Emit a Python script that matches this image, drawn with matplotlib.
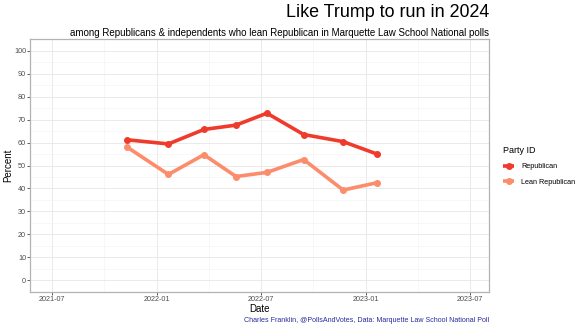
import numpy as np
import pandas as pd
import matplotlib
matplotlib.use('Agg')
import matplotlib.pyplot as plt
import matplotlib.dates as mdates

plt.rcParams['font.family'] = ['Liberation Sans', 'DejaVu Sans']

# poll end dates and shares
poll_dates = pd.to_datetime(['2021-11-10', '2022-01-21', '2022-03-24', '2022-05-19',
                             '2022-07-12', '2022-09-14', '2022-11-22', '2023-01-20'])
republican = [61.2, 59.4, 65.7, 67.6, 72.8, 63.5, 60.4, 55.0]
lean_republican = [58.0, 46.1, 54.7, 45.2, 47.0, 52.6, 39.3, 42.5]

series_names = ['Republican', 'Lean Republican']
series_colors = ['#EF3B2C', '#FC8D6C']

W, H = 584, 329
fig = plt.figure(figsize=(W / 100, H / 100), dpi=100)
ax = fig.add_axes([30.3 / W, 1 - 291.7 / H, (489.3 - 30.3) / W, (291.7 - 39.3) / H])

for vals, name, col in zip([republican, lean_republican], series_names, series_colors):
    ax.plot(poll_dates, vals, color=col, lw=2.6, marker='o', ms=4.0,
            solid_capstyle='butt', label=name)

ax.set_ylim(-5, 105)
ax.set_xlim(pd.Timestamp('2021-05-25'), pd.Timestamp('2023-08-04'))
ax.set_yticks(np.arange(0, 101, 10))
ax.set_yticks(np.arange(5, 101, 10), minor=True)
major_x = pd.to_datetime(['2021-07-01', '2022-01-01', '2022-07-01', '2023-01-01', '2023-07-01'])
minor_x = pd.to_datetime(['2021-10-01', '2022-04-01', '2022-10-01', '2023-04-01'])
ax.set_xticks(major_x)
ax.set_xticks(minor_x, minor=True)
ax.xaxis.set_major_formatter(mdates.DateFormatter('%Y-%m'))

ax.grid(which='major', color='#E6E6E6', lw=0.6)
ax.grid(which='minor', color='#F2F2F2', lw=0.4)
ax.set_axisbelow(True)
for s in ax.spines.values():
    s.set_color('#B3B3B3')
    s.set_linewidth(0.9)
ax.tick_params(which='major', length=2.0, width=0.6, color='#444444',
               labelsize=5.2, labelcolor='#4D4D4D', pad=1.0)
ax.tick_params(which='minor', length=0)

ax.set_xlabel('Date', fontsize=7, labelpad=0.5)
ax.set_ylabel('Percent', fontsize=7)
ax.yaxis.set_label_coords(13 / W, 1 - 165 / H, transform=fig.transFigure)

fig.text(489.3 / W, 1 - 12.5 / H, 'Like Trump to run in 2024', ha='right', va='center', fontsize=12.9)
fig.text(489.3 / W, 1 - 33 / H,
         'among Republicans & independents who lean Republican in Marquette Law School National polls',
         ha='right', va='center', fontsize=7.05)
fig.text(489.3 / W, 1 - 320.5 / H, 'Charles Franklin, @PollsAndVotes, Data: Marquette Law School National Poll',
         ha='right', va='center', fontsize=5.13, color='#2B2BA0')

leg = ax.legend(loc='upper left', bbox_to_anchor=(500 / W, 1 - 143 / H), bbox_transform=fig.transFigure,
                title='Party ID', frameon=False, fontsize=5.2, title_fontsize=6.5,
                handlelength=1.6, handletextpad=0.9, labelspacing=1.15, borderaxespad=0)
leg._legend_box.align = 'left'

fig.savefig('out.png', dpi=100)
